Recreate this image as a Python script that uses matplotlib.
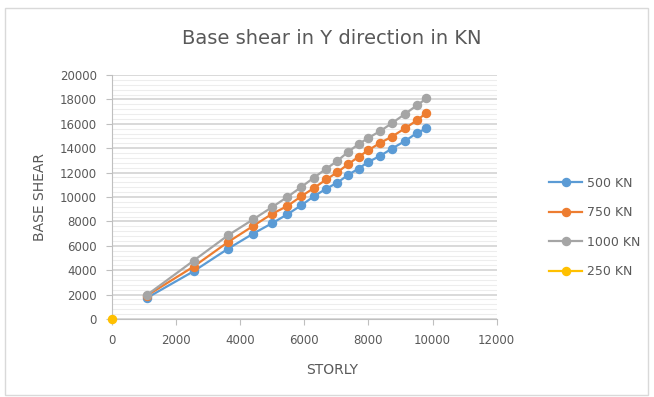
import matplotlib
matplotlib.use("Agg")
import matplotlib.pyplot as plt
from matplotlib.ticker import MultipleLocator
from matplotlib.patches import Rectangle

storey = [1090, 2550, 3615, 4400, 5000, 5470, 5905, 6300, 6690, 7030,
          7365, 7690, 8000, 8365, 8720, 9135, 9520, 9810]
shear_500 = [1730, 3920, 5750, 6990, 7860, 8580, 9320, 10060, 10690, 11180,
             11810, 12330, 12880, 13370, 13950, 14580, 15260, 15620]
shear_750 = [1920, 4300, 6300, 7620, 8630, 9260, 10060, 10740, 11450, 12030,
             12690, 13290, 13840, 14440, 14930, 15620, 16300, 16900]
shear_1000 = [1970, 4790, 6850, 8160, 9180, 10000, 10820, 11590, 12330, 12960,
              13700, 14330, 14850, 15400, 16030, 16800, 17530, 18080]
storey_250 = [0]
shear_250 = [0]

plt.rcParams['font.family'] = ['DejaVu Sans']
txt = '#595959'

W, H = 654, 397
fig = plt.figure(figsize=(W / 100, H / 100), dpi=100)
fig.patches.append(Rectangle((5 / W, 2 / H), 643 / W, 387 / H, transform=fig.transFigure,
                             fill=False, edgecolor='#D9D9D9', linewidth=1))
ax = fig.add_axes([112 / W, 1 - 319 / H, (496.7 - 112) / W, (319 - 75) / H])

ms = 5.8
lw = 1.6
ax.plot(storey, shear_500, color='#5B9BD5', marker='o', ms=ms, lw=lw, label='500 KN', zorder=3)
ax.plot(storey, shear_750, color='#ED7D31', marker='o', ms=ms, lw=lw, label='750 KN', zorder=3)
ax.plot(storey, shear_1000, color='#A5A5A5', marker='o', ms=ms, lw=lw, label='1000 KN', zorder=3)
ax.plot(storey_250, shear_250, color='#FFC000', marker='o', ms=ms, lw=lw, label='250 KN', zorder=4,
        clip_on=False)

ax.set_xlim(0, 12000)
ax.set_ylim(0, 20000)
ax.xaxis.set_major_locator(MultipleLocator(2000))
ax.yaxis.set_major_locator(MultipleLocator(2000))
ax.yaxis.set_minor_locator(MultipleLocator(400))
ax.grid(axis='y', which='major', color='#D0D0D0', lw=1.1, zorder=0)
ax.grid(axis='y', which='minor', color='#EDEDED', lw=0.8, zorder=0)
ax.set_axisbelow(True)

for s in ['top', 'right']:
    ax.spines[s].set_visible(False)
ax.spines['left'].set_color('#BFBFBF')
ax.spines['bottom'].set_color('#BFBFBF')
ax.tick_params(axis='both', which='major', colors='#BFBFBF', labelcolor=txt,
               labelsize=8.5, length=4, width=0.8, pad=7)
ax.tick_params(axis='y', which='minor', length=0)

fig.text(332 / W, 1 - 370 / H, 'STORLY', color=txt, fontsize=10, ha='center', va='center')
fig.text(40 / W, 1 - 197 / H, 'BASE SHEAR', color=txt, fontsize=10, ha='center', va='center',
         rotation=90)
fig.text(332 / W, 1 - 39 / H, 'Base shear in Y direction in KN', color=txt, fontsize=14,
         ha='center', va='center')

leg = ax.legend(loc='center left', bbox_to_anchor=(538 / W, 1 - 227.5 / H),
                bbox_transform=fig.transFigure, frameon=False, fontsize=9,
                labelcolor=txt, handlelength=2.6, labelspacing=1.32, handletextpad=0.4)

fig.savefig('out.png', dpi=100)
